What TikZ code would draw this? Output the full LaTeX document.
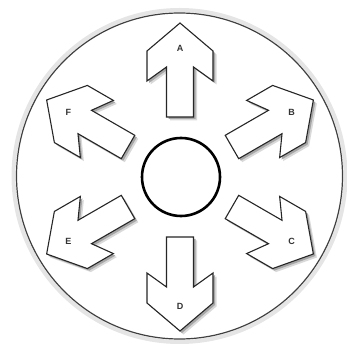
\documentclass[tikz,border=0pt]{standalone}
\usepackage{fontspec}
\setmainfont{Liberation Sans}
\begin{document}
\begin{tikzpicture}[x=1pt,y=1pt,
  arrowline/.style={draw=black!85, line width=1.1pt, fill=white, line join=miter},
  shadowfill/.style={fill=black!35},
  shadowsoft/.style={fill=black!15},
  letter/.style={font=\fontsize{9}{9}\selectfont\bfseries, text=black!80, inner sep=0pt}]
\useasboundingbox (-180,-170) rectangle (167,177);
% outer halo and ring
\draw[black!10, line width=4pt] (-0.5,1) circle (166);
\draw[black!75, line width=1.2pt] (-0.5,1) circle (163);
% arrows
\foreach \ang/\lab in {90/A,30/B,-30/C,-90/D,-150/E,150/F}{
  \fill[shadowsoft, shift={(3.5,-3.5)}, rotate=\ang]
    (60,13.5) -- (110,13.5) -- (96,33) -- (126,33) -- (154,0) -- (126,-33) -- (96,-33) -- (110,-13.5) -- (60,-13.5) -- cycle;
  \fill[shadowfill, shift={(2,-2)}, rotate=\ang]
    (60,13.5) -- (110,13.5) -- (96,33) -- (126,33) -- (154,0) -- (126,-33) -- (96,-33) -- (110,-13.5) -- (60,-13.5) -- cycle;
  \path[arrowline, rotate=\ang]
    (60,13.5) -- (110,13.5) -- (96,33) -- (126,33) -- (154,0) -- (126,-33) -- (96,-33) -- (110,-13.5) -- (60,-13.5) -- cycle;
  \node[letter] (lab\lab) at (\ang:129) {\lab};
}
% inner circle
\draw[black, line width=2.6pt] (1,0) circle (39);
\end{tikzpicture}
\end{document}
